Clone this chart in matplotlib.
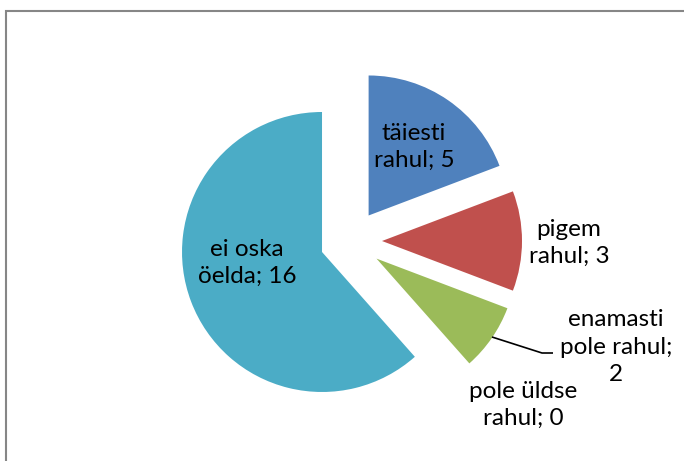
import matplotlib
matplotlib.use("Agg")
import matplotlib.pyplot as plt
from matplotlib.patches import Rectangle

# Data
categories = ["täiesti rahul", "pigem rahul", "enamasti pole rahul", "pole üldse rahul", "ei oska öelda"]
values = [5, 3, 2, 0, 16]
colors = ["#4F81BD", "#C0504D", "#9BBB59", "#8064A2", "#4BACC6"]

# Label text wrapping (as in the reference)
label_texts = [
    "täiesti\nrahul; {v}",
    "pigem\nrahul; {v}",
    "enamasti\npole rahul;\n{v}",
    "pole üldse\nrahul; {v}",
    "ei oska\nöelda; {v}",
]

W, H = 684, 461
fig = plt.figure(figsize=(W / 100, H / 100), dpi=100)
ax = fig.add_axes([0, 0, 1, 1])

cx, cy, R = 351, H - 241, 140
explode_px = 31
wedges, _ = ax.pie(values, colors=colors, startangle=90, counterclock=False,
                   explode=[explode_px] * len(values), radius=R, center=(cx, cy),
                   wedgeprops=dict(linewidth=0), frame=True)
ax.set_xlim(0, W)
ax.set_ylim(0, H)
ax.set_aspect("equal")
ax.axis("off")

# label layout (image px)
label_pos = [(414, 147), (569, 243), (616, 347), (523, 405), (247, 263)]
font = dict(family=["Lato", "DejaVu Sans"], fontsize=17.5, color="black")
for txt, v, (x, y) in zip(label_texts, values, label_pos):
    ax.text(x, H - y, txt.format(v=v), ha="center", va="center",
            linespacing=1.38, **font)

# leader line for green slice
ax.plot([492, 542, 553], [H - 337, H - 353, H - 353], color="black", lw=1.2,
        solid_capstyle="butt")

# chart frame
fig.patches.append(Rectangle((6 / W, 0 - 0.1), 1.2, (H - 11) / H + 0.1,
                             transform=fig.transFigure, fill=False,
                             edgecolor="#868686", linewidth=1.5))

fig.savefig("out.png", dpi=100)
